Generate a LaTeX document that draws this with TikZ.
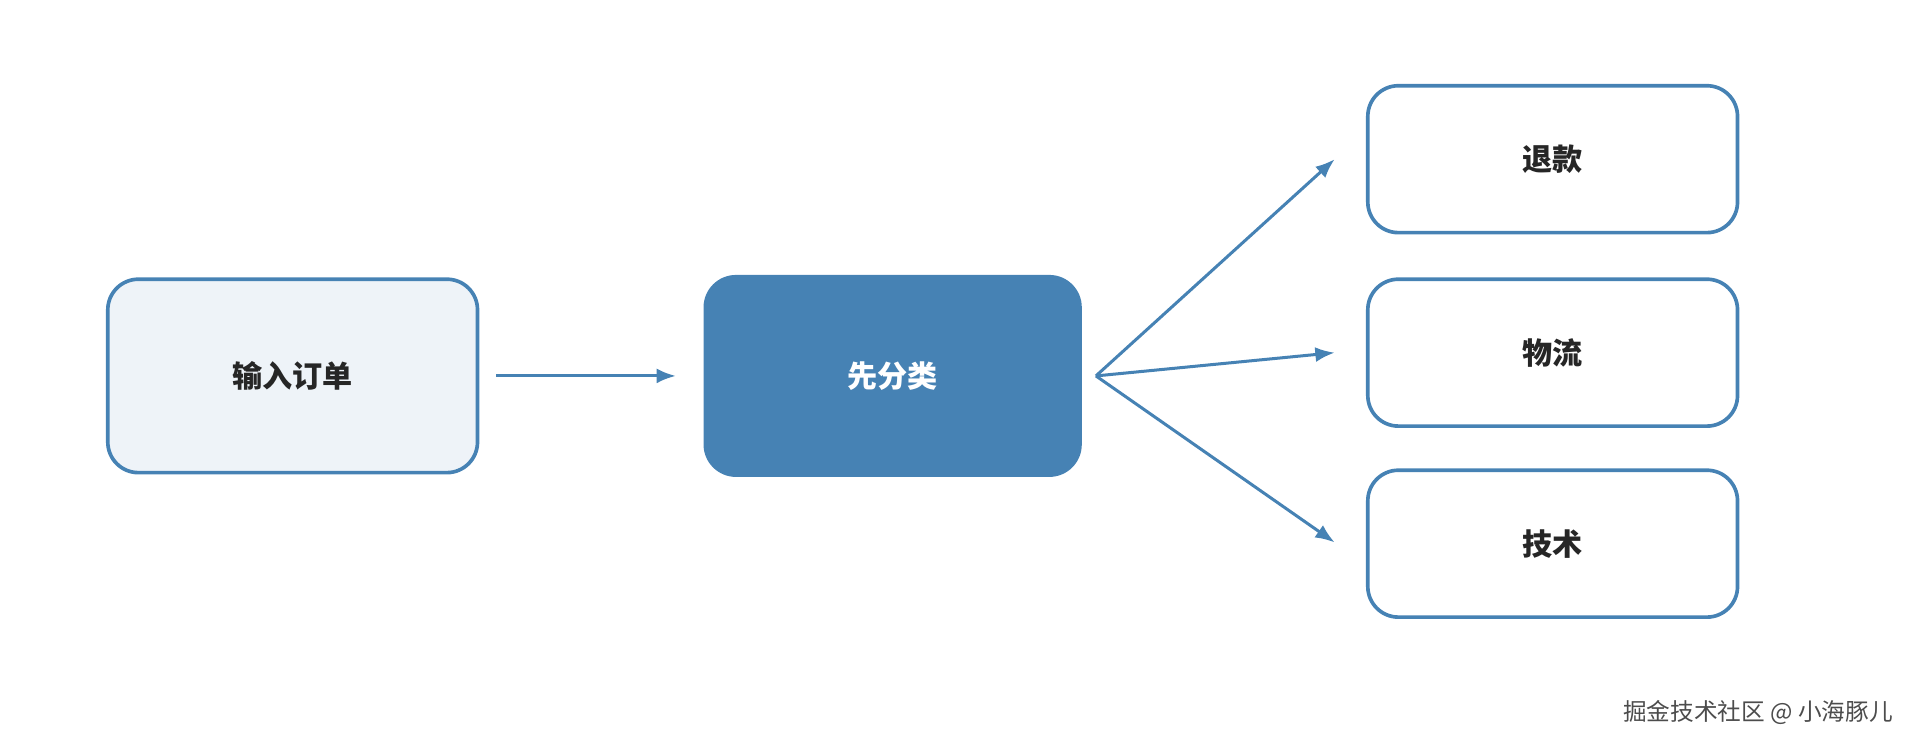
\documentclass[tikz,border=0pt]{standalone}
\usepackage{fontspec}
\setmainfont{Noto Sans CJK SC}
\usepackage{tikz}
\usetikzlibrary{arrows.meta,shapes}
\definecolor{steel}{HTML}{4682B4}
\definecolor{pale}{HTML}{EEF3F8}
\begin{document}
\begin{tikzpicture}[x=0.02cm,y=-0.02cm,
  box/.style={draw=steel,line width=1.7pt,rounded corners=0.5cm,minimum width=6.04cm,minimum height=2.4cm,font=\fontsize{14}{16}\selectfont\bfseries,text=black!85},
  link/.style={draw=steel,line width=1.4pt,-{Latex[length=9pt,width=7pt]}}]
  \useasboundingbox (0,0) rectangle (1568,612);
  \node[box,fill=pale,minimum height=3.16cm] (input) at (239,307) {输入订单};
  \node[box,fill=steel,minimum width=6.12cm,minimum height=3.24cm,text=white] (sort) at (729,307) {先分类};
  \node[box,fill=white] (refund) at (1268,130) {退款};
  \node[box,fill=white] (ship) at (1268,288) {物流};
  \node[box,fill=white] (tech) at (1268,444) {技术};
  \coordinate (fork) at (895,307);
  \draw[link] (input.east) ++(14,0) coordinate (a) -- (552,307) coordinate (b);
  \draw[link] (fork) -- (1090,130);
  \draw[link] (fork) -- (1090,288);
  \draw[link] (fork) -- (1090,443);
  \node[anchor=east,text=black!70,font=\fontsize{11}{13}\selectfont] (mark) at (1552,582) {掘金技术社区 @ 小海豚儿};
\end{tikzpicture}
\end{document}
